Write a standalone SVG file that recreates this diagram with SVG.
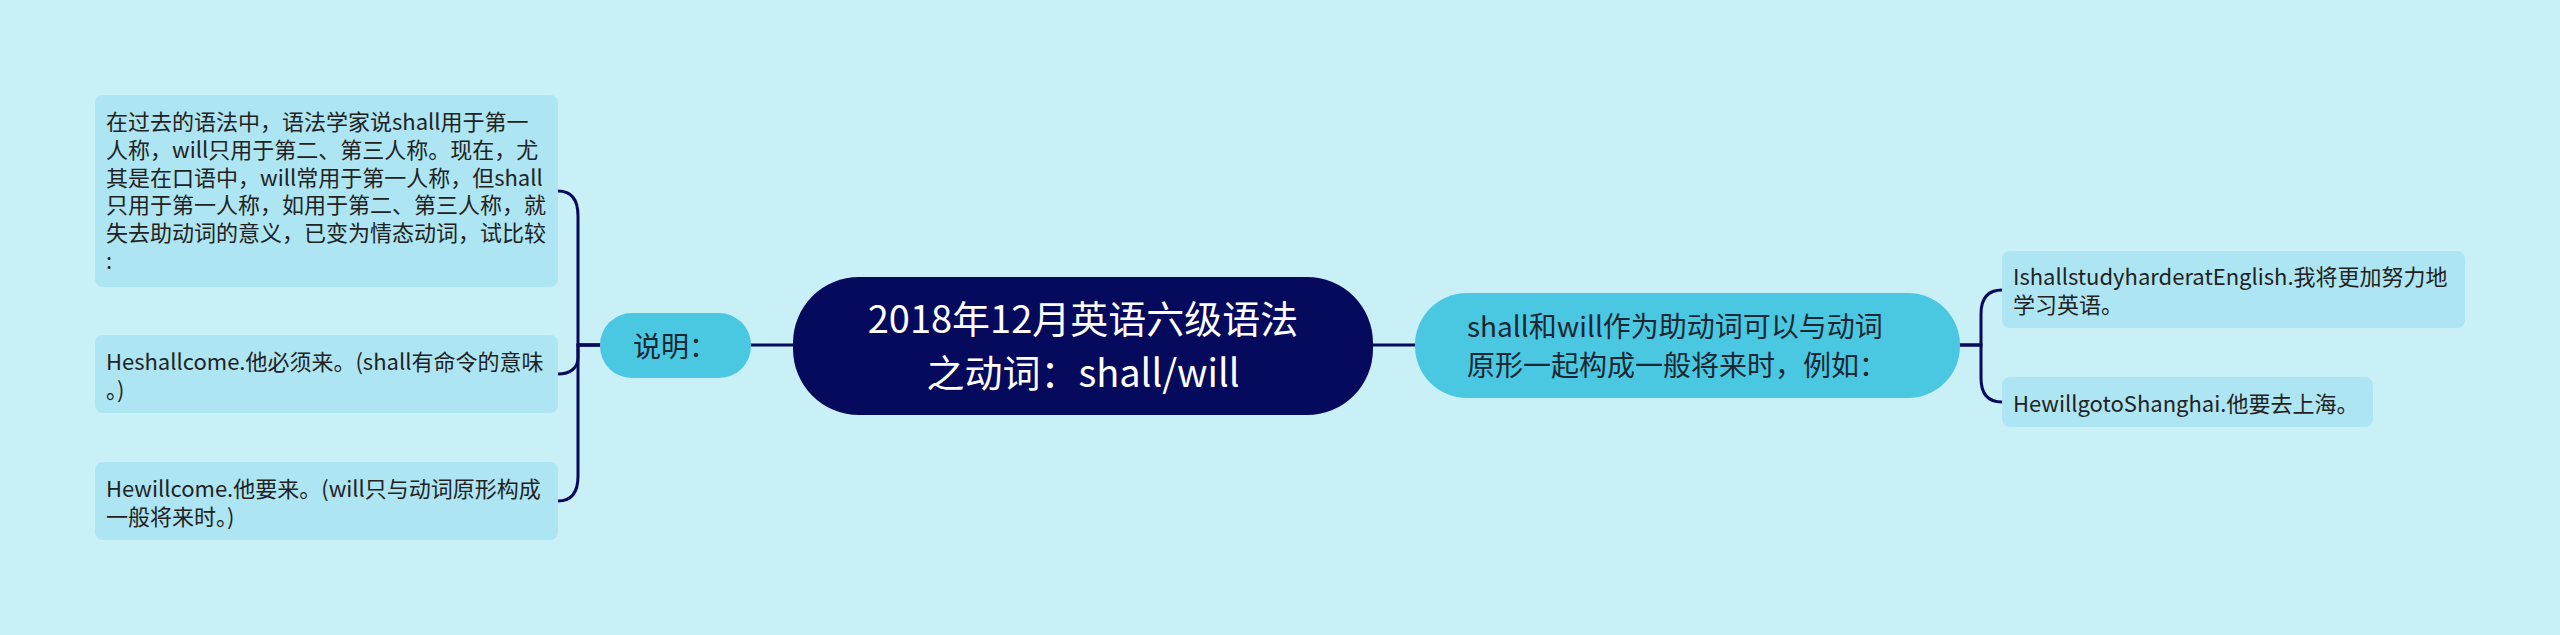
<svg xmlns="http://www.w3.org/2000/svg" width="2560" height="635" viewBox="0 0 2560 635">
<style>
.bg{fill:#C9EFF7}
.leaf{fill:#ADE5F2}
.sub{fill:#4AC7E1}
.root{fill:#060A5C}
.t{font-family:"Noto Sans CJK SC","Noto Sans",sans-serif;fill:#222}
.lt{font-size:22px}
.st{font-size:28px;fill:#1B2733}
.rt{font-size:38px;fill:#FFFFFF}
.c{fill:none;stroke:#060A5C;stroke-width:3;stroke-linecap:round}
</style>
<rect class="bg" x="0" y="0" width="2560" height="635"/>
<g id="connectors">
<path class="c" d="M749 345 H793"/>
<path class="c" d="M1373 345 H1415"/>
<path class="c" d="M600 345 H578 V216 C578 199 571 191 558 191"/>
<path class="c" d="M600 345 H578 V358 C578 368 570 374 558 374"/>
<path class="c" d="M600 345 H578 V476 C578 493 571 501 558 501"/>
<path class="c" d="M1959 345 H1981 V314 C1981 297 1989 290 2002 290"/>
<path class="c" d="M1959 345 H1981 V378 C1981 395 1989 402 2002 402"/>
</g>
<g id="root">
<rect class="root" x="793" y="277" width="580" height="138" rx="66"/>
<text class="t rt" x="1083" y="333" text-anchor="middle">2018年12月英语六级语法</text>
<text class="t rt" x="1083" y="387" text-anchor="middle">之动词：shall/will</text>
</g>
<g id="explain">
<rect class="sub" x="600" y="313" width="151" height="65" rx="32"/>
<text class="t st" x="633" y="357">说明：</text>
</g>
<g id="usage">
<rect class="sub" x="1415" y="293" width="545" height="105" rx="52"/>
<text class="t st" x="1467" y="337">shall和will作为助动词可以与动词</text>
<text class="t st" x="1467" y="376">原形一起构成一般将来时，例如：</text>
</g>
<g id="leaf-l1">
<rect class="leaf" x="95" y="95" width="463" height="192" rx="8"/>
<text class="t lt" x="106" y="130">在过去的语法中，语法学家说shall用于第一</text>
<text class="t lt" x="106" y="158">人称，will只用于第二、第三人称。现在，尤</text>
<text class="t lt" x="106" y="186">其是在口语中，will常用于第一人称，但shall</text>
<text class="t lt" x="106" y="213">只用于第一人称，如用于第二、第三人称，就</text>
<text class="t lt" x="106" y="241">失去助动词的意义，已变为情态动词，试比较</text>
<text class="t lt" x="106" y="269">:</text>
</g>
<g id="leaf-l2">
<rect class="leaf" x="95" y="335" width="463" height="78" rx="8"/>
<text class="t lt" x="106" y="370">Heshallcome.他必须来。(shall有命令的意味</text>
<text class="t lt" x="106" y="398">。)</text>
</g>
<g id="leaf-l3">
<rect class="leaf" x="95" y="462" width="463" height="78" rx="8"/>
<text class="t lt" x="106" y="497">Hewillcome.他要来。(will只与动词原形构成</text>
<text class="t lt" x="106" y="525">一般将来时。)</text>
</g>
<g id="leaf-r1">
<rect class="leaf" x="2002" y="251" width="463" height="77" rx="8"/>
<text class="t lt" x="2013" y="285">IshallstudyharderatEnglish.我将更加努力地</text>
<text class="t lt" x="2013" y="313">学习英语。</text>
</g>
<g id="leaf-r2">
<rect class="leaf" x="2002" y="377" width="371" height="50" rx="8"/>
<text class="t lt" x="2013" y="412">HewillgotoShanghai.他要去上海。</text>
</g>
</svg>
